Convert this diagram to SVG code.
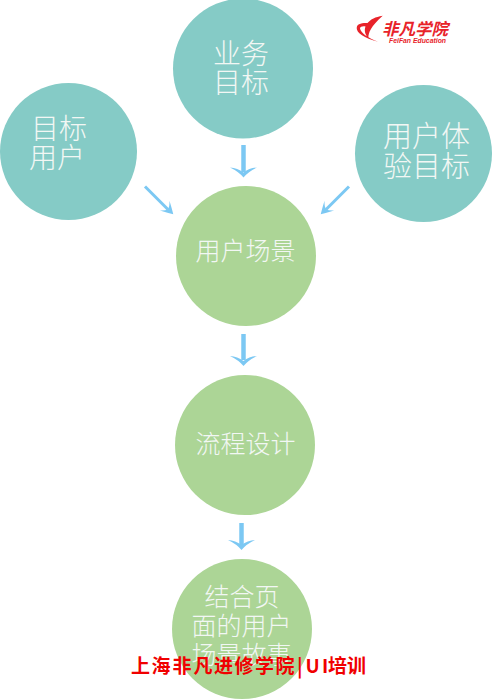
<svg xmlns="http://www.w3.org/2000/svg" width="492" height="700" viewBox="0 0 492 700">
<style>
.t{fill:#f2f7f4;font-family:"Noto Sans CJK SC","Noto Sans",sans-serif;text-anchor:middle;font-weight:300}
.big{font-size:28px}
.ux{font-size:29px}
.mid{font-size:25px}
.teal{fill:#85cbc6}
.green{fill:#acd596}
.shaft{stroke:#7cc8f3;stroke-width:4.500;fill:none}
.thin{stroke:#7cc8f3;stroke-width:3;fill:none}
.head{fill:#7cc8f3}
.wm{fill:#f00000;font-family:"Noto Sans CJK SC",sans-serif;font-weight:700;font-size:19px}
</style>
<defs>
<path id="ah" class="head" d="M-13.500,-10Q-6,-9.500 0,-5Q6,-9.500 13.500,-10Q5,-6 0,0Q-5,-6 -13.500,-10Z"/>
<path id="ad" class="head" d="M-6.800,-12.200Q-3,-8 0,-7.500Q3,-8 6.800,-12.200Q3,-5 0,0Q-3,-5 -6.800,-12.200Z"/>
</defs>
<rect width="492" height="700" fill="#fff"/>
<g id="connectors">
<path class="shaft" d="M243.500 145V172"/><use href="#ah" x="243.500" y="177.500"/>
<path class="thin" d="M145 186.500L168 209.500"/><use href="#ad" transform="translate(173.300,214.300) rotate(-45)"/>
<path class="thin" d="M349 186.500L326 209.500"/><use href="#ad" transform="translate(320.700,214.300) rotate(45)"/>
<path class="shaft" d="M243.500 334V360"/><use href="#ah" x="243.500" y="366"/>
<path class="shaft" d="M241.500 523V545"/><use href="#ah" x="241.500" y="550"/>
</g>
<g id="node-business"><circle class="teal" cx="243" cy="68.500" r="70"/><text class="t big"><tspan x="241" y="64">业务</tspan><tspan x="241" y="93">目标</tspan></text></g>
<g id="node-users"><circle class="teal" cx="68.500" cy="151.500" r="68.500"/><text class="t big"><tspan x="59" y="139">目标</tspan><tspan x="57" y="168">用户</tspan></text></g>
<g id="node-ux"><circle class="teal" cx="423.500" cy="153.500" r="68.500"/><text class="t ux"><tspan x="426.500" y="147">用户体</tspan><tspan x="426.500" y="177">验目标</tspan></text></g>
<g id="node-scene"><circle class="green" cx="246" cy="256" r="70"/><text class="t mid" x="245.500" y="260">用户场景</text></g>
<g id="node-flow"><circle class="green" cx="245" cy="445" r="70"/><text class="t mid" x="245.500" y="453">流程设计</text></g>
<g id="node-story"><circle class="green" cx="242" cy="629" r="70"/><text class="t mid"><tspan x="242" y="606">结合页</tspan><tspan x="241.500" y="635">面的用户</tspan><tspan x="241.500" y="664">场景故事</tspan></text></g>
<g id="logo">
<path fill="#e8232a" d="M382.700 15.700C375 17 371 19 367.500 23C363 23 357 23 356.700 28C356.500 33 364 38 378 41.700C368 38 361 33 360 28.500C360 26.500 363 26 365.500 26.500C364 30 365 35 368.500 38C368 33 371 26 382.700 15.700Z"/>
<text x="382" y="35" font-family="'Noto Sans CJK SC',sans-serif" font-size="16.500" font-weight="700" font-style="italic" fill="#e8232a">非凡学院</text>
<text x="389" y="43" font-family="'Liberation Sans',sans-serif" font-size="7.500" font-weight="700" font-style="italic" fill="#e8232a" textLength="57" lengthAdjust="spacingAndGlyphs">FeiFan Education</text>
</g>
<g id="watermark"><text class="wm" y="673" x="131 151.500 172.500 193.500 214 234.500 255 275.500 297 305.500 322 328 347">上海非凡进修学院|UI培训</text></g>
</svg>
